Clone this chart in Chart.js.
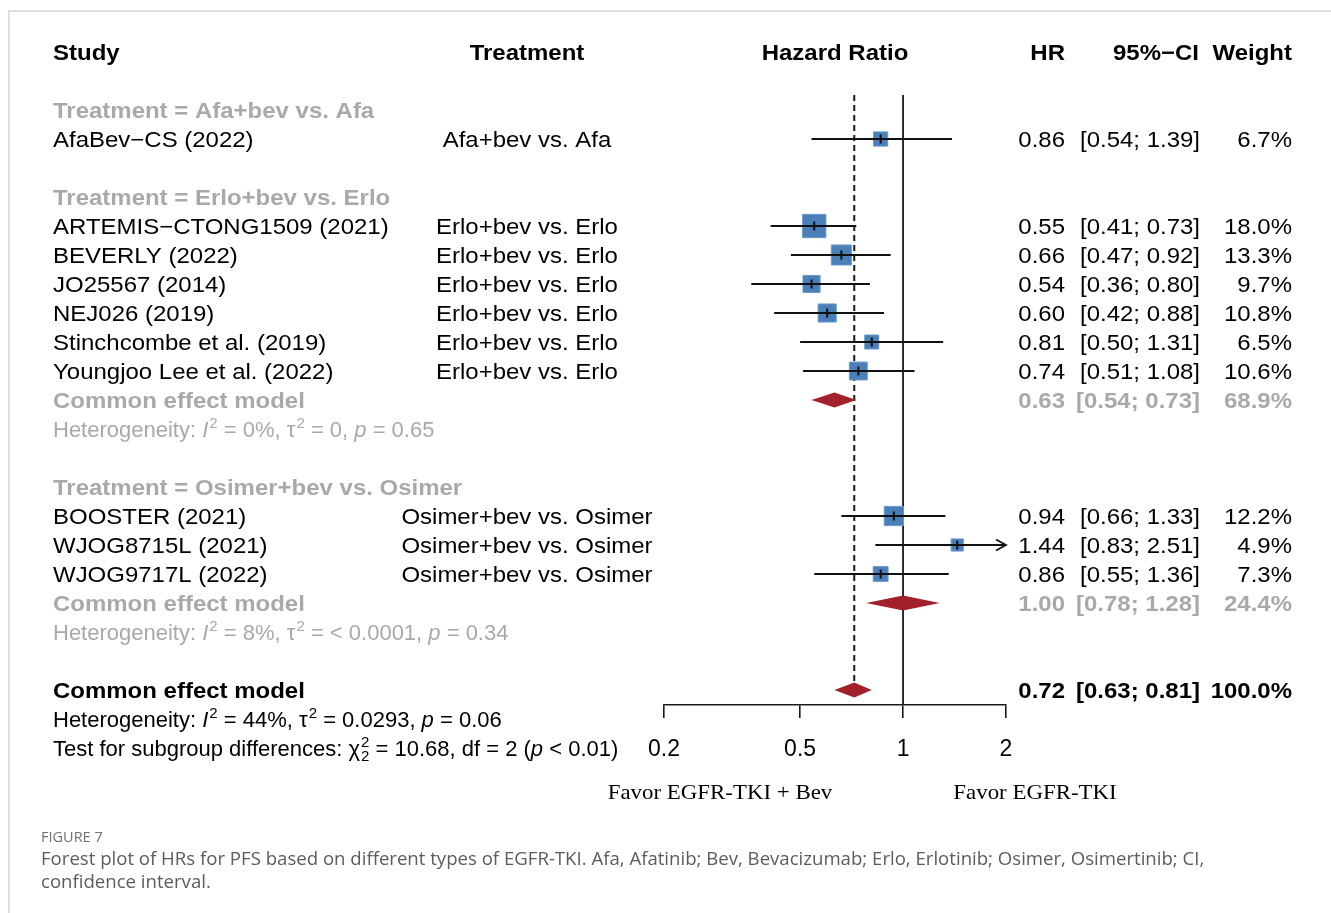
<!DOCTYPE html>
<html>
<head>
<meta charset="utf-8">
<script src="https://cdn.jsdelivr.net/npm/chart.js@4.4.1/dist/chart.umd.min.js"></script>
<style>
html, body { margin: 0; padding: 0; background: #fff; }
body { width: 1331px; height: 913px; position: relative; overflow: hidden; }
#frame { position: absolute; left: 8px; top: 10px; width: 1340px; height: 920px; border-top: 2px solid #dedede; border-left: 2px solid #dedede; }
#plot { position: absolute; left: 0; top: 0; }
#caption { position: absolute; left: 41px; top: 827px; font-family: 'Open Sans', sans-serif; color: #5c5c5c; }
#caption .fig { font-size: 14.5px; line-height: 19px; color: #707070; }
#caption .txt { font-size: 18.6px; line-height: 23px; }
</style>
</head>
<body>
<div id="frame"></div>
<canvas id="plot" width="1331" height="830"></canvas>
<div id="caption">
	<div class="fig">FIGURE 7</div>
	<div class="txt">Forest plot of HRs for PFS based on different types of EGFR-TKI. Afa, Afatinib; Bev, Bevacizumab; Erlo, Erlotinib; Osimer, Osimertinib; CI,<br>confidence interval.</div>
</div>
<script>
/* Data */
var groups = ['Afa+bev vs. Afa', 'Erlo+bev vs. Erlo', 'Osimer+bev vs. Osimer'];
var studies = ['AfaBev\u2212CS (2022)', 'ARTEMIS\u2212CTONG1509 (2021)', 'BEVERLY (2022)', 'JO25567 (2014)', 'NEJ026 (2019)',
	'Stinchcombe et al. (2019)', 'Youngjoo Lee et al. (2022)', 'BOOSTER (2021)', 'WJOG8715L (2021)', 'WJOG9717L (2022)'];
var studyGroup = [0, 1, 1, 1, 1, 1, 1, 2, 2, 2];
var hr = [0.86, 0.55, 0.66, 0.54, 0.60, 0.81, 0.74, 0.94, 1.44, 0.86];
var lower = [0.54, 0.41, 0.47, 0.36, 0.42, 0.50, 0.51, 0.66, 0.83, 0.55];
var upper = [1.39, 0.73, 0.92, 0.80, 0.88, 1.31, 1.08, 1.33, 2.51, 1.36];
var weight = [6.7, 18.0, 13.3, 9.7, 10.8, 6.5, 10.6, 12.2, 4.9, 7.3];

var groupHR = [null, 0.63, 1.00];
var groupLower = [null, 0.54, 0.78];
var groupUpper = [null, 0.73, 1.28];
var groupWeight = [null, 68.9, 24.4];
var groupI2 = [null, '0%', '8%'];
var groupTau2 = [null, '0', '< 0.0001'];
var groupP = [null, '0.65', '0.34'];

var overallHR = 0.72, overallLower = 0.63, overallUpper = 0.81, overallWeight = 100.0;
var overallI2 = '44%', overallTau2 = '0.0293', overallP = '0.06';
var subgroupChi2 = '10.68', subgroupDf = '2', subgroupP = '< 0.01';

var xTicks = [0.2, 0.5, 1, 2];

/* Styles */
var SANS = '"Liberation Sans", Arial, sans-serif';
var SERIF = '"Liberation Serif", "Times New Roman", serif';
var BLACK = '#000';
var GREY = '#a9a9a9';
var SX = 1.09;     // the figure's text is slightly wide
var SX_STAT = 1.0; // statistics lines are set narrower
var SQ = 5.5;      // square side per sqrt(weight)

/* Row layout built from the group structure */
var row = 0, studyRow = [], groupRow = [], pooledRow = [];
groups.forEach(function (g, gi) {
	groupRow[gi] = row++;
	studyGroup.forEach(function (sg, i) {
		if (sg === gi) studyRow[i] = row++;
	});
	if (groupHR[gi] !== null) {
		pooledRow[gi] = row;
		row += 2;
	}
	row++;
});
var overallRow = row;

function text(ctx, str, x, y, opt) {
	opt = opt || {};
	var sx = opt.sx || SX;
	ctx.save();
	ctx.font = (opt.italic ? 'italic ' : '') + (opt.bold ? 'bold ' : '') + (opt.size || 22) + 'px ' + (opt.family || SANS);
	ctx.fillStyle = opt.color || BLACK;
	ctx.textAlign = opt.align || 'left';
	ctx.textBaseline = 'alphabetic';
	ctx.translate(x, y);
	ctx.scale(sx, 1);
	ctx.fillText(str, 0, 0);
	var w = ctx.measureText(str).width * sx;
	ctx.restore();
	return w;
}

function rich(ctx, segs, x, y, color) {
	segs.forEach(function (s) {
		if (s.sup || s.sub) {
			var w1 = s.sup ? text(ctx, s.sup, x + 1, y - 9, {size: 15, color: color, sx: SX_STAT}) : 0;
			var w2 = s.sub ? text(ctx, s.sub, x + 1, y + 5, {size: 15, color: color, sx: SX_STAT}) : 0;
			x += Math.max(w1, w2) + 1;
		} else {
			x += text(ctx, s.t, x, y, {italic: s.it, color: color, sx: SX_STAT});
		}
	});
}

function hetSegs(i2, tau2, p) {
	return [{t: 'Heterogeneity: '}, {t: 'I', it: true}, {sup: '2'}, {t: ' = ' + i2 + ', \u03c4'}, {sup: '2'},
		{t: ' = ' + tau2 + ', '}, {t: 'p', it: true}, {t: ' = ' + p}];
}

function values(ctx, y, est, lo, hi, w, bold, color) {
	text(ctx, est.toFixed(2), 1065, y, {align: 'right', bold: bold, color: color});
	text(ctx, '[' + lo.toFixed(2) + '; ' + hi.toFixed(2) + ']', 1200, y, {align: 'right', bold: bold, color: color});
	text(ctx, w.toFixed(1) + '%', 1292, y, {align: 'right', bold: bold, color: color});
}

function diamond(ctx, xs, y, est, lo, hi) {
	ctx.beginPath();
	ctx.moveTo(xs.getPixelForValue(lo), y);
	ctx.lineTo(xs.getPixelForValue(est), y - 7.5);
	ctx.lineTo(xs.getPixelForValue(hi), y);
	ctx.lineTo(xs.getPixelForValue(est), y + 7.5);
	ctx.closePath();
	ctx.fillStyle = '#a21f2c';
	ctx.fill();
}

var forestPlugin = {
	id: 'forest',
	beforeDatasetsDraw: function (chart) {
		var ctx = chart.ctx, xs = chart.scales.x, ys = chart.scales.y, area = chart.chartArea;
		ctx.save();
		ctx.strokeStyle = '#1a1a1a';
		ctx.lineWidth = 1.8;
		// line of no effect
		var x1 = xs.getPixelForValue(1);
		ctx.beginPath();
		ctx.moveTo(x1, area.top);
		ctx.lineTo(x1, area.bottom);
		ctx.stroke();
		// overall estimate, dashed
		var xo = xs.getPixelForValue(overallHR);
		ctx.lineWidth = 2;
		ctx.setLineDash([6, 4]);
		ctx.beginPath();
		ctx.moveTo(xo, area.top);
		ctx.lineTo(xo, ys.getPixelForValue(overallRow) - 7);
		ctx.stroke();
		ctx.restore();
	},
	afterDatasetsDraw: function (chart) {
		var ctx = chart.ctx, xs = chart.scales.x, ys = chart.scales.y;
		ctx.save();
		ctx.strokeStyle = '#111';
		hr.forEach(function (v, i) {
			var y = ys.getPixelForValue(studyRow[i]);
			var xl = xs.getPixelForValue(Math.max(lower[i], xs.min));
			var xh = xs.getPixelForValue(Math.min(upper[i], xs.max));
			ctx.lineWidth = 1.8;
			ctx.beginPath();
			ctx.moveTo(xl, y);
			ctx.lineTo(xh, y);
			ctx.stroke();
			if (upper[i] > xs.max) {
				ctx.beginPath();
				ctx.moveTo(xh - 10, y - 5.5);
				ctx.lineTo(xh, y);
				ctx.lineTo(xh - 10, y + 5.5);
				ctx.stroke();
			}
			var xe = xs.getPixelForValue(v);
			ctx.lineWidth = 2;
			ctx.beginPath();
			ctx.moveTo(xe, y - 4.5);
			ctx.lineTo(xe, y + 4.5);
			ctx.stroke();
		});
		groups.forEach(function (g, gi) {
			if (groupHR[gi] !== null) {
				diamond(ctx, xs, ys.getPixelForValue(pooledRow[gi]), groupHR[gi], groupLower[gi], groupUpper[gi]);
			}
		});
		diamond(ctx, xs, ys.getPixelForValue(overallRow), overallHR, overallLower, overallUpper);
		ctx.restore();
	},
	afterDraw: function (chart) {
		var ctx = chart.ctx, ys = chart.scales.y;
		var Y = function (r) { return ys.getPixelForValue(r) + 8; };

		text(ctx, 'Study', 53, Y(-2), {bold: true});
		text(ctx, 'Treatment', 527, Y(-2), {bold: true, align: 'center'});
		text(ctx, 'Hazard Ratio', 835, Y(-2), {bold: true, align: 'center'});
		text(ctx, 'HR', 1065, Y(-2), {bold: true, align: 'right'});
		text(ctx, '95%\u2212CI', 1199, Y(-2), {bold: true, align: 'right'});
		text(ctx, 'Weight', 1292, Y(-2), {bold: true, align: 'right'});

		groups.forEach(function (g, gi) {
			text(ctx, 'Treatment = ' + g, 53, Y(groupRow[gi]), {bold: true, color: GREY});
			if (groupHR[gi] !== null) {
				var r = pooledRow[gi];
				text(ctx, 'Common effect model', 53, Y(r), {bold: true, color: GREY});
				values(ctx, Y(r), groupHR[gi], groupLower[gi], groupUpper[gi], groupWeight[gi], true, GREY);
				rich(ctx, hetSegs(groupI2[gi], groupTau2[gi], groupP[gi]), 53, Y(r + 1), GREY);
			}
		});

		studies.forEach(function (s, i) {
			var y = Y(studyRow[i]);
			text(ctx, s, 53, y);
			text(ctx, groups[studyGroup[i]], 527, y, {align: 'center'});
			values(ctx, y, hr[i], lower[i], upper[i], weight[i], false, BLACK);
		});

		text(ctx, 'Common effect model', 53, Y(overallRow), {bold: true});
		values(ctx, Y(overallRow), overallHR, overallLower, overallUpper, overallWeight, true, BLACK);
		rich(ctx, hetSegs(overallI2, overallTau2, overallP), 53, Y(overallRow + 1), BLACK);
		rich(ctx, [{t: 'Test for subgroup differences: \u03c7'}, {sup: '2', sub: subgroupDf}, {t: ' = ' + subgroupChi2 + ', df = ' + subgroupDf + ' ('},
			{t: 'p', it: true}, {t: ' ' + subgroupP + ')'}], 53, Y(overallRow + 2), BLACK);

		text(ctx, 'Favor EGFR-TKI + Bev', 720, ys.getPixelForValue(overallRow + 3.5) + 7, {family: SERIF, size: 21, align: 'center'});
		text(ctx, 'Favor EGFR-TKI', 1035, ys.getPixelForValue(overallRow + 3.5) + 7, {family: SERIF, size: 21, align: 'center'});
	}
};

var chart = new Chart(document.getElementById('plot'), {
	type: 'scatter',
	data: {
		datasets: [{
			data: hr.map(function (v, i) { return {x: v, y: studyRow[i]}; }),
			pointStyle: 'rect',
			pointRadius: function (c) { return SQ * Math.sqrt(weight[c.dataIndex]) / Math.SQRT2; },
			backgroundColor: '#4a7fb8',
			borderColor: '#6a9acb',
			borderWidth: 1,
			clip: false
		}]
	},
	options: {
		responsive: false,
		animation: false,
		events: [],
		layout: {
			padding: {left: 664, right: 325, top: 95, bottom: 65}
		},
		plugins: {
			legend: {display: false},
			tooltip: {enabled: false}
		},
		scales: {
			x: {
				type: 'logarithmic',
				min: 0.2,
				max: 2,
				afterBuildTicks: function (axis) {
					axis.ticks = xTicks.map(function (v) { return {value: v}; });
				},
				afterFit: function (axis) {
					axis.height = 60;
				},
				ticks: {
					autoSkip: false,
					maxRotation: 0,
					padding: 18,
					color: BLACK,
					font: {family: SANS, size: 23},
					callback: function (v) { return String(v); }
				},
				grid: {
					drawOnChartArea: false,
					drawTicks: true,
					tickLength: 13,
					color: '#1a1a1a',
					lineWidth: 1.6
				},
				border: {display: true, color: '#1a1a1a', width: 1.6}
			},
			y: {
				type: 'linear',
				display: false,
				reverse: true,
				min: -0.517,
				max: overallRow + 0.517
			}
		}
	},
	plugins: [forestPlugin]
});
</script>
</body>
</html>
